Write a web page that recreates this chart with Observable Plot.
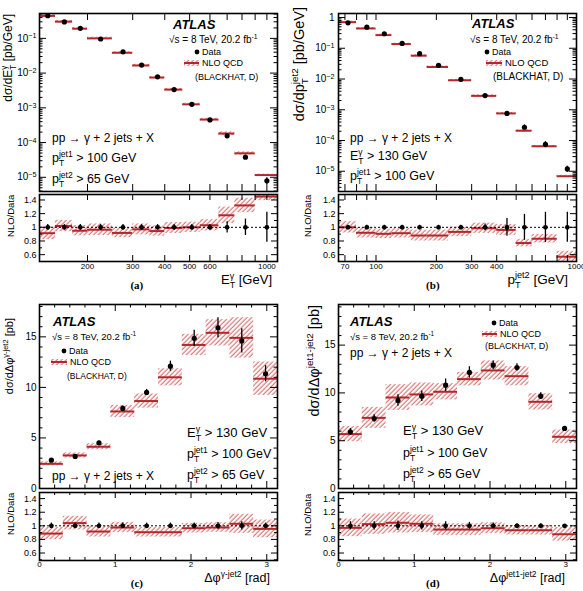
<!DOCTYPE html>
<html><head><meta charset="utf-8">
<script src="https://cdn.jsdelivr.net/npm/d3@7"></script>
<script src="https://cdn.jsdelivr.net/npm/@observablehq/plot@0.6"></script>
<style>
html,body{margin:0;padding:0;background:#fff;}
#root{position:relative;width:583px;height:591px;overflow:hidden;background:#fff;}
#root svg{position:absolute;overflow:visible;}
</style></head>
<body>
<svg width="0" height="0" style="position:absolute;left:0;top:0">
 <defs>
  <pattern id="hatch" patternUnits="userSpaceOnUse" width="3.3" height="3.3" patternTransform="rotate(45)">
   <line x1="1" y1="-1" x2="1" y2="5" stroke="#d24d4d" stroke-width="0.9"/>
  </pattern>
 </defs>
</svg>
<div id="root"></div>
<script>
const FONT = '"Liberation Sans", Arial, Helvetica, sans-serif';
const SERIF = '"Liberation Serif", "Times New Roman", serif';
const RED = "#b1282c";

// ---------- (a) dσ/dE_T^γ ----------
const aEdges   = [130,150,175,200,250,300,350,400,470,550,650,750,900,1100];
const aData    = [0.45,0.297,0.194,0.096,0.041,0.017,0.0078,0.00335,0.00126,4.5e-4,1.56e-4,3.8e-5,7.9e-6];
const aDataErr = [0.04,0.04,0.04,0.04,0.04,0.04,0.04,0.04,0.04,0.04,0.083,0.12,0.22];
const aNlo     = [0.443,0.303,0.19,0.1,0.0385,0.0166,0.00745,0.00335,0.00126,4.6e-4,1.82e-4,4.9e-5,1.16e-5];
const aNloUnc  = [0.095,0.083,0.075,0.085,0.07,0.08,0.075,0.08,0.075,0.083,0.12,0.105,0.06];
const aRatio   = [0.914,1.019,0.95,0.965,0.918,0.97,0.945,0.99,1.0,1.03,1.176,1.32,1.45];

// ---------- (b) dσ/dp_T^jet2 ----------
const bEdges   = [65,80,100,120,150,180,230,300,400,500,600,800,1000];
const bData    = [0.67,0.486,0.296,0.144,0.0665,0.0279,0.0098,0.0029,7.6e-4,2.7e-4,7.5e-5,1.19e-5];
const bDataErr = [0.03,0.03,0.03,0.03,0.03,0.03,0.03,0.05,0.13,0.19,0.22,0.22];
const bNlo     = [0.706,0.44,0.268,0.137,0.0573,0.0246,0.0091,0.00283,7.6e-4,2.08e-4,6.5e-5,6.9e-6];
const bNloUnc  = [0.083,0.075,0.07,0.07,0.08,0.08,0.07,0.075,0.08,0.055,0.062,0.08];
const bRatio   = [1.0,0.92,0.905,0.914,0.88,0.88,0.933,0.986,0.962,0.77,0.833,0.57];

// ---------- (c) dσ/dΔφ^γ-jet2 ----------
const cEdges     = [0,0.314,0.628,0.942,1.257,1.571,1.885,2.199,2.513,2.827,3.1416];
const cData      = [2.8,3.17,4.52,7.92,9.5,12.1,14.85,15.9,14.6,11.35];
const cDataErr   = [0.1,0.1,0.15,0.25,0.3,0.5,0.8,1.0,1.2,0.8];
const cNlo       = [2.44,3.27,4.13,7.62,8.65,11.0,14.2,15.4,14.9,10.86];
const cNloErr    = [0.2,0.25,0.3,0.6,0.7,0.85,1.05,1.3,2.0,1.65];
const cRatio     = [0.886,1.04,0.916,0.975,0.906,0.906,0.965,0.975,1.03,0.955];
const cRatioUnc  = [0.09,0.1,0.08,0.075,0.07,0.07,0.07,0.07,0.14,0.13];
const cRatioErr  = [0.04,0.04,0.04,0.04,0.04,0.04,0.04,0.05,0.06,0.04];

// ---------- (d) dσ/dΔφ^jet1-jet2 ----------
const dEdges     = [0,0.314,0.628,0.942,1.257,1.571,1.885,2.199,2.513,2.827,3.1416];
const dData      = [5.93,7.32,9.21,9.66,10.81,12.14,12.9,12.66,9.66,6.28];
const dDataErr   = [0.35,0.4,0.6,0.55,0.65,0.6,0.45,0.4,0.35,0.15];
const dNlo       = [5.69,7.39,9.52,9.84,10.12,11.44,12.35,11.75,9.07,5.41];
const dNloErr    = [0.8,1.1,1.35,1.2,0.85,0.7,1.0,1.0,0.85,0.7];
const dRatio     = [0.97,1.025,1.045,1.03,0.945,0.945,0.965,0.935,0.935,0.876];
const dRatioUnc  = [0.13,0.15,0.15,0.13,0.085,0.085,0.08,0.07,0.07,0.1];
const dRatioErr  = [0.06,0.06,0.07,0.06,0.06,0.05,0.04,0.03,0.03,0.02];

// tick labels
const logLabelsA = [1e-5,1e-4,1e-3,1e-2,1e-1];
const logLabelsB = [1e-5,1e-4,1e-3,1e-2,1e-1,1];
const aXLabels = [200,300,400,500,600,1000];
const bXLabels = [70,100,200,300,400,1000];
const phiLabels = [0,1,2,3];
const linLabels = [0,5,10,15];
const ratioLabels = [0.6,0.8,1,1.2,1.4];

const root = d3.select("#root");

function makePlot(o) {
  const mL = 50, mR = 16, mT = 10, mB = 20;
  const W = o.x1 - o.x0, H = o.y1 - o.y0;
  const inD = (dom) => v => v >= dom[0] - 1e-9 && v <= dom[1] + 1e-9;
  const notIn = (arr) => v => !arr.some(m => Math.abs(m - v) < 1e-7 * Math.max(1, Math.abs(m)));
  const xMaj = o.xMajor.filter(inD(o.xDomain));
  const xMin = (o.xMinor || []).filter(inD(o.xDomain)).filter(notIn(xMaj));
  const yMaj = o.yMajor.filter(inD(o.yDomain));
  const yMin = (o.yMinor || []).filter(inD(o.yDomain)).filter(notIn(yMaj));
  const tl = o.tick || 7, ts = tl / 2;
  const tk = {stroke: "#000", strokeWidth: 1};
  const marks = [
    ...o.marks,
    Plot.tickX(xMaj, {x: d => d, insetTop: H - tl, ...tk}),
    Plot.tickX(xMaj, {x: d => d, insetBottom: H - tl, ...tk}),
    Plot.tickX(xMin, {x: d => d, insetTop: H - ts, ...tk}),
    Plot.tickX(xMin, {x: d => d, insetBottom: H - ts, ...tk}),
    Plot.tickY(yMaj, {y: d => d, insetRight: W - tl, ...tk}),
    Plot.tickY(yMaj, {y: d => d, insetLeft: W - tl, ...tk}),
    Plot.tickY(yMin, {y: d => d, insetRight: W - ts, ...tk}),
    Plot.tickY(yMin, {y: d => d, insetLeft: W - ts, ...tk}),
    Plot.frame({stroke: "#000", strokeWidth: 1.6})
  ];
  if (o.yLabels) marks.push(Plot.axisY(o.yLabels, {anchor: "left", tickSize: 0, tickPadding: o.yPad ?? 3, tickFormat: o.yFmt, fontSize: o.yFont || 9.5, label: null}));
  if (o.xLabels) marks.push(Plot.text(o.xLabels, {x: d => d, frameAnchor: "bottom", lineAnchor: "top", dy: o.xPad ?? 1.5, text: d => String(d), fontSize: o.xFont || 8, fill: "#000"}));
  const xs = {type: o.xType, domain: o.xDomain, axis: null};
  const ys = {type: o.yType, domain: o.yDomain};
  if (!o.yLabels) ys.axis = null;
  const svg = Plot.plot({
    width: W + mL + mR, height: H + mT + mB,
    marginLeft: mL, marginRight: mR, marginTop: mT, marginBottom: mB,
    x: xs, y: ys,
    style: {fontFamily: FONT, fontSize: "9px", color: "#000", background: "transparent", overflow: "visible"},
    marks
  });
  svg.style.left = (o.x0 - mL) + "px";
  svg.style.top = (o.y0 - mT) + "px";
  root.node().appendChild(svg);
  d3.select(svg).selectAll("text").each(function () {
    const s = this.textContent;
    if (s.includes("^")) {
      const [b, e] = s.split("^");
      this.textContent = "";
      d3.select(this).append("tspan").text(b);
      d3.select(this).append("tspan").attr("dy", "-0.45em").attr("font-size", "0.72em").text(e);
    }
  });
  return svg;
}

function logFmt(d) {
  if (d === 1) return "1";
  const e = Math.round(Math.log10(d));
  return "10^" + (e < 0 ? "\u2212" + (-e) : e);
}
const ratioFmt = d => String(d);

function mainLog(edges, data, dataErr, nlo, unc) {
  const T = data.map((v, i) => ({lo: edges[i], hi: edges[i + 1], xc: (edges[i] + edges[i + 1]) / 2, data: v, derr: dataErr[i], nlo: nlo[i], unc: unc[i]}));
  return [
    Plot.rect(T, {x1: "lo", x2: "hi", y1: d => d.nlo * (1 - d.unc), y2: d => d.nlo * (1 + d.unc), fill: "url(#hatch)", clip: true}),
    Plot.ruleY(T, {y: "nlo", x1: "lo", x2: "hi", stroke: RED, strokeWidth: 2, clip: true}),
    Plot.ruleX(T, {x: "xc", y1: d => d.data * (1 - d.derr), y2: d => d.data * (1 + d.derr), stroke: "#000", strokeWidth: 1.3, clip: true}),
    Plot.dot(T, {x: "xc", y: "data", r: 2.6, fill: "#000", clip: true})
  ];
}
function mainLin(edges, data, dataErr, nlo, nloErr) {
  const T = data.map((v, i) => ({lo: edges[i], hi: edges[i + 1], xc: (edges[i] + edges[i + 1]) / 2, data: v, derr: dataErr[i], nlo: nlo[i], nerr: nloErr[i]}));
  return [
    Plot.rect(T, {x1: "lo", x2: "hi", y1: d => d.nlo - d.nerr, y2: d => d.nlo + d.nerr, fill: "url(#hatch)", clip: true}),
    Plot.ruleY(T, {y: "nlo", x1: "lo", x2: "hi", stroke: RED, strokeWidth: 2, clip: true}),
    Plot.ruleX(T, {x: "xc", y1: d => d.data - d.derr, y2: d => d.data + d.derr, stroke: "#000", strokeWidth: 1.3, clip: true}),
    Plot.dot(T, {x: "xc", y: "data", r: 2.6, fill: "#000", clip: true})
  ];
}
function ratioMarks(edges, ratio, unc, derr) {
  const T = ratio.map((v, i) => ({lo: edges[i], hi: edges[i + 1], xc: (edges[i] + edges[i + 1]) / 2, r: v, u: unc[i], e: derr[i]}));
  return [
    Plot.rect(T, {x1: "lo", x2: "hi", y1: d => d.r - d.u, y2: d => d.r + d.u, fill: "url(#hatch)", clip: true}),
    Plot.ruleY(T, {y: "r", x1: "lo", x2: "hi", stroke: RED, strokeWidth: 2, clip: true}),
    Plot.ruleY([1], {stroke: "#000", strokeWidth: 1, strokeDasharray: "2,2"}),
    Plot.ruleX(T, {x: "xc", y1: d => 1 - d.e, y2: d => 1 + d.e, stroke: "#000", strokeWidth: 1.3, clip: true}),
    Plot.dot(T, {x: "xc", y: () => 1, r: 2.4, fill: "#000", clip: true})
  ];
}

const ratioMinor = d3.ticks(0.4, 1.6, 12);
const logTicks = (dom) => d3.scaleLog().domain(dom).ticks();
const decades = (dom) => logTicks(dom).filter(v => Math.abs(Math.log10(v) - Math.round(Math.log10(v))) < 1e-9);

// ===== panel (a) =====
const aXDom = [130, 1100], aYDom = [3.9e-6, 0.52];
makePlot({x0: 39, x1: 277, y0: 13, y1: 191, xType: "log", yType: "log", xDomain: aXDom, yDomain: aYDom,
  xMajor: logTicks(aXDom), yMajor: decades(aYDom), yMinor: logTicks(aYDom),
  yLabels: logLabelsA, yFmt: logFmt, yPad: 3, yFont: 10,
  marks: mainLog(aEdges, aData, aDataErr, aNlo, aNloUnc)});
makePlot({x0: 39, x1: 277, y0: 194, y1: 261, xType: "log", yType: "linear", xDomain: aXDom, yDomain: [0.5, 1.48],
  xMajor: logTicks(aXDom), yMajor: ratioLabels, yMinor: ratioMinor, tick: 6,
  yLabels: ratioLabels, yFmt: ratioFmt, yPad: 3, yFont: 9,
  xLabels: aXLabels,
  marks: ratioMarks(aEdges, aRatio, aNloUnc, aDataErr)});

// ===== panel (b) =====
const bXDom = [65, 1000], bYDom = [2.2e-6, 1.35];
makePlot({x0: 338, x1: 576, y0: 13, y1: 191, xType: "log", yType: "log", xDomain: bXDom, yDomain: bYDom,
  xMajor: logTicks(bXDom), yMajor: decades(bYDom), yMinor: logTicks(bYDom),
  yLabels: logLabelsB, yFmt: logFmt, yPad: 4, yFont: 10,
  marks: mainLog(bEdges, bData, bDataErr, bNlo, bNloUnc)});
makePlot({x0: 338, x1: 576, y0: 194, y1: 261, xType: "log", yType: "linear", xDomain: bXDom, yDomain: [0.5, 1.48],
  xMajor: logTicks(bXDom), yMajor: ratioLabels, yMinor: ratioMinor, tick: 6,
  yLabels: ratioLabels, yFmt: ratioFmt, yPad: 3, yFont: 9,
  xLabels: bXLabels,
  marks: ratioMarks(bEdges, bRatio, bNloUnc, bDataErr)});

// ===== panel (c) =====
const phiDom = [0, 3.1416];
makePlot({x0: 39, x1: 277, y0: 304, y1: 488, xType: "linear", yType: "linear", xDomain: phiDom, yDomain: [0, 18.2],
  xMajor: phiLabels, xMinor: d3.ticks(0, 3.2, 16), yMajor: linLabels, yMinor: d3.ticks(0, 18, 18),
  yLabels: linLabels, yFmt: d => String(d), yPad: 3, yFont: 10,
  marks: mainLin(cEdges, cData, cDataErr, cNlo, cNloErr)});
makePlot({x0: 39, x1: 277, y0: 492, y1: 560, xType: "linear", yType: "linear", xDomain: phiDom, yDomain: [0.49, 1.49],
  xMajor: phiLabels, xMinor: d3.ticks(0, 3.2, 16), yMajor: ratioLabels, yMinor: ratioMinor, tick: 6,
  yLabels: ratioLabels, yFmt: ratioFmt, yPad: 3, yFont: 9,
  xLabels: phiLabels, xPad: 1,
  marks: ratioMarks(cEdges, cRatio, cRatioUnc, cRatioErr)});

// ===== panel (d) =====
makePlot({x0: 338, x1: 576, y0: 304, y1: 488, xType: "linear", yType: "linear", xDomain: phiDom, yDomain: [0, 19.25],
  xMajor: phiLabels, xMinor: d3.ticks(0, 3.2, 16), yMajor: linLabels, yMinor: d3.ticks(0, 19, 19),
  yLabels: linLabels, yFmt: d => String(d), yPad: 3, yFont: 10,
  marks: mainLin(dEdges, dData, dDataErr, dNlo, dNloErr)});
makePlot({x0: 338, x1: 576, y0: 492, y1: 560, xType: "linear", yType: "linear", xDomain: phiDom, yDomain: [0.49, 1.49],
  xMajor: phiLabels, xMinor: d3.ticks(0, 3.2, 16), yMajor: ratioLabels, yMinor: ratioMinor, tick: 6,
  yLabels: ratioLabels, yFmt: ratioFmt, yPad: 3, yFont: 9,
  xLabels: phiLabels, xPad: 1,
  marks: ratioMarks(dEdges, dRatio, dRatioUnc, dRatioErr)});

// ===== overlay text =====
const overlay = root.append("svg").attr("width", 583).attr("height", 591)
  .style("left", "0px").style("top", "0px").style("pointer-events", "none");

function rich(x, y, segs, o = {}) {
  const fs = o.size || 12, ss = fs * 0.68;
  const t = overlay.append("text").attr("x", x).attr("y", y).attr("font-size", fs)
    .attr("font-family", o.family || FONT).attr("fill", "#000");
  if (o.weight) t.attr("font-weight", o.weight);
  if (o.italic) t.attr("font-style", "italic");
  let cur = 0, pend = 0;
  const mv = (target) => { const d = target - cur; cur = target; return d; };
  for (const s of segs) {
    if (typeof s === "string") {
      t.append("tspan").attr("dx", pend).attr("dy", mv(0)).text(s); pend = 0;
    } else if (s.sub !== undefined && s.sup !== undefined) {
      const a = t.append("tspan").attr("dx", pend).attr("dy", mv(fs * 0.3)).attr("font-size", ss).text(s.sub);
      const wa = a.node().getComputedTextLength();
      const b = t.append("tspan").attr("dx", -wa).attr("dy", mv(-fs * 0.42)).attr("font-size", ss).text(s.sup);
      const wb = b.node().getComputedTextLength();
      pend = wa > wb ? wa - wb : 0;
    } else if (s.sup !== undefined) {
      t.append("tspan").attr("dx", pend).attr("dy", mv(-fs * 0.42)).attr("font-size", ss).text(s.sup); pend = 0;
    } else if (s.sub !== undefined) {
      t.append("tspan").attr("dx", pend).attr("dy", mv(fs * 0.3)).attr("font-size", ss).text(s.sub); pend = 0;
    }
  }
  if (o.anchor === "end" || o.anchor === "middle") {
    const bb = t.node().getBBox();
    const shift = o.anchor === "end" ? x - (bb.x + bb.width) : x - (bb.x + bb.width / 2);
    t.attr("x", x + shift);
  }
  if (o.rotate) t.attr("transform", `rotate(${o.rotate},${x},${y})`);
  return t;
}
function legData(x, y) { overlay.append("circle").attr("cx", x).attr("cy", y).attr("r", 2.4).attr("fill", "#000"); }
function legNLO(x0, x1, y) {
  overlay.append("rect").attr("x", x0).attr("y", y - 3).attr("width", x1 - x0).attr("height", 6).attr("fill", "url(#hatch)");
  overlay.append("line").attr("x1", x0).attr("x2", x1).attr("y1", y).attr("y2", y).attr("stroke", RED).attr("stroke-width", 2);
}
const sqrtS = ["\u221As = 8 TeV, 20.2 fb", {sup: "-1"}];

// (a)
rich(12, 14, ["d\u03c3/dE", {sub: "T", sup: "\u03b3"}, " [pb/GeV]"], {size: 12, anchor: "end", rotate: -90});
rich(14, 194, ["NLO/Data"], {size: 9.5, anchor: "end", rotate: -90});
rich(272, 284, ["E", {sub: "T", sup: "\u03b3"}, " [GeV]"], {size: 13, anchor: "end"});
rich(137, 289, ["(a)"], {size: 11, family: SERIF, weight: "bold", anchor: "middle"});
rich(173, 29, ["ATLAS"], {size: 13, weight: "bold", italic: true});
rich(169, 43, sqrtS, {size: 10});
legData(197, 52); rich(202, 55, ["Data"], {size: 9});
legNLO(184, 199, 63); rich(202, 66, ["NLO QCD"], {size: 9});
rich(195, 80, ["(BLACKHAT, D)"], {size: 9});
rich(52, 142, ["pp \u2192 \u03b3 + 2 jets + X"], {size: 12});
rich(52, 162, ["p", {sub: "T", sup: "jet1"}, " > 100 GeV"], {size: 12.5});
rich(52, 183, ["p", {sub: "T", sup: "jet2"}, " > 65 GeV"], {size: 12.5});

// (b)
rich(304, 7, ["d\u03c3/dp", {sub: "T", sup: "jet2"}, " [pb/GeV]"], {size: 14.5, anchor: "end", rotate: -90});
rich(311, 194, ["NLO/Data"], {size: 9.5, anchor: "end", rotate: -90});
rich(568, 284, ["p", {sub: "T", sup: "jet2"}, " [GeV]"], {size: 13.5, anchor: "end"});
rich(433, 289, ["(b)"], {size: 11, family: SERIF, weight: "bold", anchor: "middle"});
rich(472, 28, ["ATLAS"], {size: 13, weight: "bold", italic: true});
rich(470, 43, sqrtS, {size: 10});
legData(487, 52); rich(492, 55, ["Data"], {size: 9});
legNLO(486, 502, 63); rich(505, 66, ["NLO QCD"], {size: 9.5});
rich(493, 80, ["(BLACKHAT, D)"], {size: 10});
rich(350, 142, ["pp \u2192 \u03b3 + 2 jets + X"], {size: 12});
rich(350, 160, ["E", {sub: "T", sup: "\u03b3"}, " > 130 GeV"], {size: 12.5});
rich(350, 180, ["p", {sub: "T", sup: "jet1"}, " > 100 GeV"], {size: 12.5});

// (c)
rich(13, 318, ["d\u03c3/d\u0394\u03c6", {sup: "\u03b3-jet2"}, " [pb]"], {size: 11, anchor: "end", rotate: -90});
rich(14, 492, ["NLO/Data"], {size: 9.5, anchor: "end", rotate: -90});
rich(270, 582, ["\u0394\u03c6", {sup: "\u03b3-jet2"}, " [rad]"], {size: 12.5, anchor: "end"});
rich(137, 587, ["(c)"], {size: 11, family: SERIF, weight: "bold", anchor: "middle"});
rich(53, 326, ["ATLAS"], {size: 13, weight: "bold", italic: true});
rich(52, 340, sqrtS, {size: 9.5});
legData(64, 351); rich(69, 354, ["Data"], {size: 9});
legNLO(51, 67, 362); rich(70, 365, ["NLO QCD"], {size: 9});
rich(67, 379, ["(BLACKHAT, D)"], {size: 8.5});
rich(52, 480, ["pp \u2192 \u03b3 + 2 jets + X"], {size: 12});
rich(187, 437, ["E", {sub: "T", sup: "\u03b3"}, " > 130 GeV"], {size: 13});
rich(187, 458, ["p", {sub: "T", sup: "jet1"}, " > 100 GeV"], {size: 12.5});
rich(187, 479, ["p", {sub: "T", sup: "jet2"}, " > 65 GeV"], {size: 12.5});

// (d)
rich(319, 305, ["d\u03c3/d\u0394\u03c6", {sup: "jet1-jet2"}, " [pb]"], {size: 14.5, anchor: "end", rotate: -90});
rich(311, 493, ["NLO/Data"], {size: 9.5, anchor: "end", rotate: -90});
rich(565, 582, ["\u0394\u03c6", {sup: "jet1-jet2"}, " [rad]"], {size: 12.5, anchor: "end"});
rich(433, 587, ["(d)"], {size: 11, family: SERIF, weight: "bold", anchor: "middle"});
rich(350, 326, ["ATLAS"], {size: 13, weight: "bold", italic: true});
rich(350, 340, sqrtS, {size: 9.5});
rich(350, 357, ["pp \u2192 \u03b3 + 2 jets + X"], {size: 12});
legData(494, 323); rich(499, 326, ["Data"], {size: 9});
legNLO(482, 497, 334); rich(500, 337, ["NLO QCD"], {size: 9});
rich(485, 349, ["(BLACKHAT, D)"], {size: 9});
rich(403, 435, ["E", {sub: "T", sup: "\u03b3"}, " > 130 GeV"], {size: 13});
rich(403, 457, ["p", {sub: "T", sup: "jet1"}, " > 100 GeV"], {size: 12.5});
rich(403, 478, ["p", {sub: "T", sup: "jet2"}, " > 65 GeV"], {size: 12.5});
</script>
</body></html>
